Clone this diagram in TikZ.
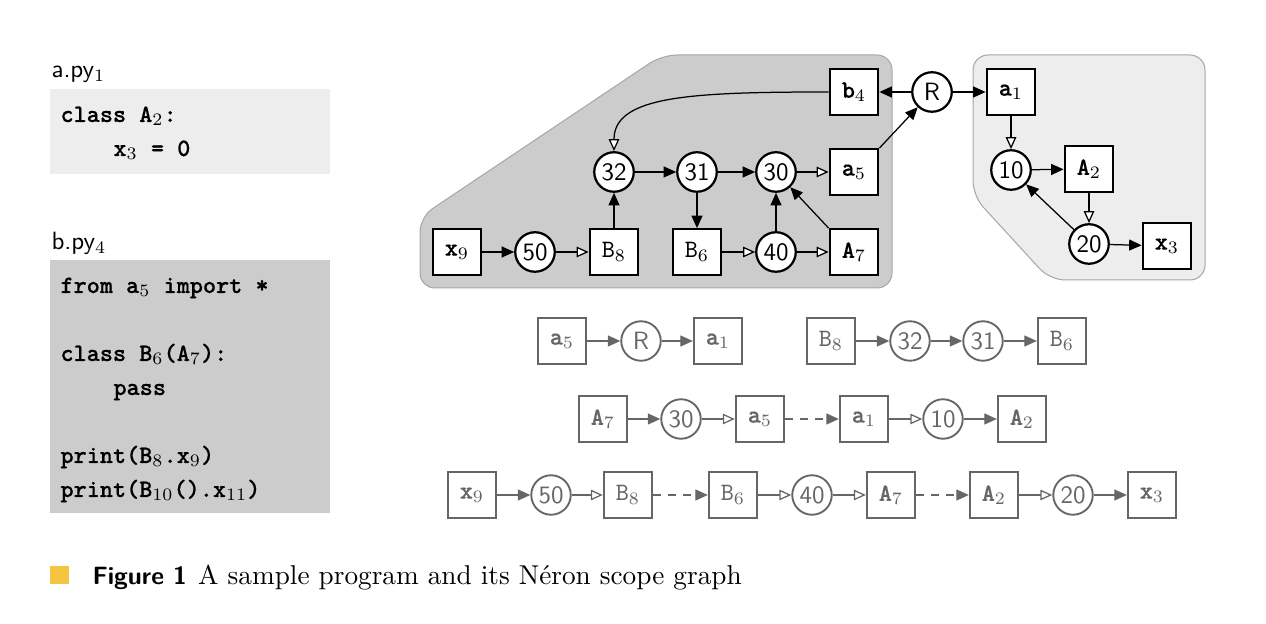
\documentclass[tikz,border=0pt]{standalone}
\usepackage{fontspec}
\setmonofont{lmmono10-regular.otf}[BoldFont=lmmonolt10-bold.otf, BoldFeatures={FakeBold=0.5}]
\usetikzlibrary{arrows.meta}
\definecolor{gry}{HTML}{666666}
\definecolor{lipyellow}{HTML}{F5C542}
\newcommand{\tb}[2]{{\ttfamily\bfseries #1}$_{#2}$}
\newcommand{\tn}[2]{{\ttfamily #1}$_{#2}$}
\tikzset{
	sbox/.style={draw, line width=0.9pt, fill=white, minimum width=19.4pt, minimum height=18.2pt, inner sep=0pt},
	scirc/.style={draw, circle, line width=0.9pt, fill=white, minimum size=15.8pt, inner sep=0pt, font=\sffamily},
	pbox/.style={sbox, draw=gry, text=gry, line width=0.75pt},
	pcirc/.style={scirc, draw=gry, text=gry, line width=0.75pt},
	fl/.style={-{Triangle[length=5pt,width=4.4pt]}, line width=0.5pt},
	op/.style={-{Triangle[length=4.8pt,width=4.2pt,fill=white]}, line width=0.5pt},
	dsh/.style={fl, dash pattern=on 3pt off 3pt},
	code/.style={anchor=base west, inner sep=0pt, font=\ttfamily\bfseries}
}
\begin{document}
\begin{tikzpicture}[x=0.4pt,y=-0.4pt]
	\useasboundingbox (0,0) rectangle (1266,624);
	% program
	\node[anchor=base west, inner sep=0pt, font=\sffamily] (apy) at (51,78) {a.py$_1$};
	\fill[black!7] (50,89) rectangle (330,174);
	\node[code] (a1l) at (60,122) {class \tn{A}{2}:};
	\node[code] (a2l) at (113,156) {\tb{x}{3} = 0};
	\node[anchor=base west, inner sep=0pt, font=\sffamily] (bpy) at (51,250) {b.py$_4$};
	\fill[black!20] (50,260) rectangle (330,513);
	\node[code] (b1l) at (60,293) {from \tb{a}{5} import *};
	\node[code] (b2l) at (60,361) {class \tn{B}{6}(\tb{A}{7}):};
	\node[code] (b3l) at (113,395) {pass};
	\node[code] (b4l) at (60,463) {print(\tn{B}{8}.\tb{x}{9})};
	\node[code] (b5l) at (60,497) {print(\tn{B}{10}().\tb{x}{11})};
	% scopes
	\draw[draw=black!35, fill=black!20, rounded corners=6pt] (420,288) -- (420,217) -- (662,55) -- (892,55) -- (892,288) -- cycle;
	\draw[draw=black!35, fill=black!7, rounded corners=6pt] (973,55) -- (1205,55) -- (1205,280) -- (1050,280) -- (973,196) -- cycle;
	% graph
	\node[sbox] (x9) at (457,252) {\tb{x}{9}};
	\node[scirc] (c50) at (535,252) {50};
	\node[sbox] (B8) at (614,252) {\tn{B}{8}};
	\node[sbox] (B6) at (697,252) {\tn{B}{6}};
	\node[scirc] (c40) at (776,252) {40};
	\node[sbox] (A7) at (854,252) {\tb{A}{7}};
	\node[scirc] (c32) at (614,172) {32};
	\node[scirc] (c31) at (697,172) {31};
	\node[scirc] (c30) at (776,172) {30};
	\node[sbox] (a5) at (854,172) {\tb{a}{5}};
	\node[sbox] (b4) at (854,92) {\tb{b}{4}};
	\node[scirc] (R) at (932,92) {R};
	\node[sbox] (a1) at (1011,92) {\tb{a}{1}};
	\node[scirc] (c10) at (1011,170) {10};
	\node[sbox] (A2) at (1089,169) {\tb{A}{2}};
	\node[scirc] (c20) at (1089,244) {20};
	\node[sbox] (x3) at (1167,246) {\tb{x}{3}};
	\draw[fl] (x9) -- (c50);
	\draw[op] (c50) -- (B8);
	\draw[fl] (B8) -- (c32);
	\draw[fl] (c32) -- (c31);
	\draw[fl] (c31) -- (c30);
	\draw[fl] (c31) -- (B6);
	\draw[op] (B6) -- (c40);
	\draw[fl] (c40) -- (c30);
	\draw[op] (c40) -- (A7);
	\draw[fl] (A7.north west) -- (c30);
	\draw[op] (c30) -- (a5);
	\draw[fl] (a5.north east) -- (R);
	\draw[fl] (R) -- (b4);
	\draw[fl] (R) -- (a1);
	\draw[op] (b4.west) .. controls (690,92) and (614,96) .. (c32.north);
	\draw[op] (a1) -- (c10);
	\draw[fl] (c10) -- (A2);
	\draw[op] (A2) -- (c20);
	\draw[fl] (c20) -- (c10);
	\draw[fl] (c20) -- (x3);
	% paths
	\begin{scope}[gry]
		\node[pbox] (p1a5) at (562,341) {\tb{a}{5}};
		\node[pcirc] (p1R) at (641,341) {R};
		\node[pbox] (p1a1) at (718,341) {\tb{a}{1}};
		\draw[fl] (p1a5) -- (p1R);
		\draw[fl] (p1R) -- (p1a1);
		\node[pbox] (p2B8) at (831,341) {\tn{B}{8}};
		\node[pcirc] (p2c32) at (910,341) {32};
		\node[pcirc] (p2c31) at (983,341) {31};
		\node[pbox] (p2B6) at (1062,341) {\tn{B}{6}};
		\draw[fl] (p2B8) -- (p2c32);
		\draw[fl] (p2c32) -- (p2c31);
		\draw[fl] (p2c31) -- (p2B6);
		\node[pbox] (p3A7) at (603,419) {\tb{A}{7}};
		\node[pcirc] (p3c30) at (681,419) {30};
		\node[pbox] (p3a5) at (760,419) {\tb{a}{5}};
		\node[pbox] (p3a1) at (864,419) {\tb{a}{1}};
		\node[pcirc] (p3c10) at (943,419) {10};
		\node[pbox] (p3A2) at (1022,419) {\tb{A}{2}};
		\draw[fl] (p3A7) -- (p3c30);
		\draw[op] (p3c30) -- (p3a5);
		\draw[dsh] (p3a5) -- (p3a1);
		\draw[op] (p3a1) -- (p3c10);
		\draw[fl] (p3c10) -- (p3A2);
		\node[pbox] (p4x9) at (472,495) {\tb{x}{9}};
		\node[pcirc] (p4c50) at (551,495) {50};
		\node[pbox] (p4B8) at (628,495) {\tn{B}{8}};
		\node[pbox] (p4B6) at (733,495) {\tn{B}{6}};
		\node[pcirc] (p4c40) at (812,495) {40};
		\node[pbox] (p4A7) at (891,495) {\tb{A}{7}};
		\node[pbox] (p4A2) at (994,495) {\tb{A}{2}};
		\node[pcirc] (p4c20) at (1073,495) {20};
		\node[pbox] (p4x3) at (1152,495) {\tb{x}{3}};
		\draw[fl] (p4x9) -- (p4c50);
		\draw[op] (p4c50) -- (p4B8);
		\draw[dsh] (p4B8) -- (p4B6);
		\draw[op] (p4B6) -- (p4c40);
		\draw[op] (p4c40) -- (p4A7);
		\draw[dsh] (p4A7) -- (p4A2);
		\draw[op] (p4A2) -- (p4c20);
		\draw[fl] (p4c20) -- (p4x3);
	\end{scope}
	% caption
	\fill[lipyellow] (50,566) rectangle (69,584);
	\node[anchor=base west, inner sep=0pt] (cap) at (92,585) {{\sffamily\bfseries Figure 1}\hspace{4.5pt}\fontsize{10.9}{13}\selectfont A sample program and its Néron scope graph};
\end{tikzpicture}
\end{document}
